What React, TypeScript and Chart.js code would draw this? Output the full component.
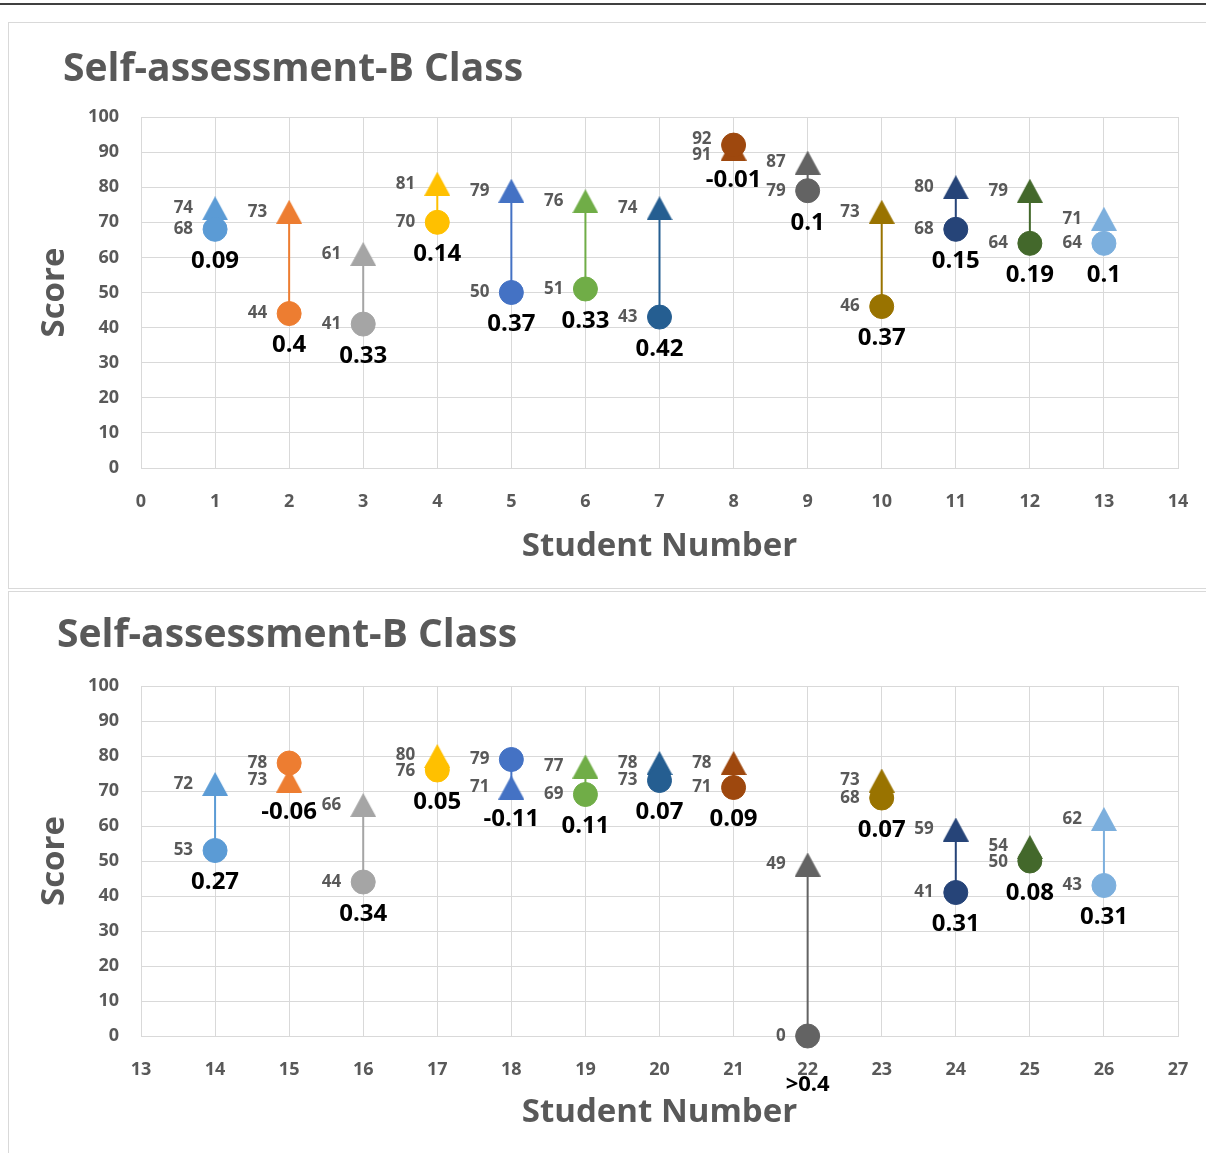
import React, { useEffect, useRef } from 'react';
import { Chart, registerables } from 'chart.js';

Chart.register(...registerables);

// ---- Data ----
const CHART_TITLE = 'Self-assessment-B Class';
const X_TITLE = 'Student Number';
const Y_TITLE = 'Score';

const STUDENTS_A = [1, 2, 3, 4, 5, 6, 7, 8, 9, 10, 11, 12, 13];
const PRE_A = [68, 44, 41, 70, 50, 51, 43, 92, 79, 46, 68, 64, 64];
const POST_A = [74, 73, 61, 81, 79, 76, 74, 91, 87, 73, 80, 79, 71];
const GAIN_A = ['0.09', '0.4', '0.33', '0.14', '0.37', '0.33', '0.42', '-0.01', '0.1', '0.37', '0.15', '0.19', '0.1'];
const X_RANGE_A = [0, 14];

const STUDENTS_B = [14, 15, 16, 17, 18, 19, 20, 21, 22, 23, 24, 25, 26];
const PRE_B = [53, 78, 44, 76, 79, 69, 73, 71, 0, 68, 41, 50, 43];
const POST_B = [72, 73, 66, 80, 71, 77, 78, 78, 49, 73, 59, 54, 62];
const GAIN_B = ['0.27', '-0.06', '0.34', '0.05', '-0.11', '0.11', '0.07', '0.09', '>0.4', '0.07', '0.31', '0.08', '0.31'];
const X_RANGE_B = [13, 27];

const Y_RANGE = [0, 100];

const COLORS = [
  '#5B9BD5', '#ED7D31', '#A5A5A5', '#FFC000', '#4472C4', '#70AD47', '#255E91',
  '#9E480E', '#636363', '#997300', '#264478', '#43682B', '#7CAFDD',
];

// ---- Styling ----
const FONT = '"Open Sans"';
const GRAY_TEXT = '#595959';
const GRID = '#D9D9D9';

function makeTriangle(color: string): HTMLCanvasElement {
  const c = document.createElement('canvas');
  c.width = 26;
  c.height = 24;
  const g = c.getContext('2d')!;
  g.fillStyle = color;
  g.beginPath();
  g.moveTo(13, 0);
  g.lineTo(26, 24);
  g.lineTo(0, 24);
  g.closePath();
  g.fill();
  return c;
}

const pointLabelPlugin = {
  id: 'pointLabels',
  afterDatasetsDraw(chart: any, _args: any, opts: any) {
    const { ctx, chartArea } = chart;
    const xs = chart.scales.x;
    const ys = chart.scales.y;
    const { students, pre, post, gain } = opts;
    if (!students) return;
    ctx.save();
    students.forEach((s: number, i: number) => {
      const px = xs.getPixelForValue(s);
      const yPre = ys.getPixelForValue(pre[i]);
      const yPost = ys.getPixelForValue(post[i]);
      let lPre = yPre;
      let lPost = yPost;
      const minGap = 16;
      if (Math.abs(yPre - yPost) < minGap) {
        const mid = (yPre + yPost) / 2;
        const preAbove = pre[i] > post[i];
        lPre = mid + (preAbove ? -minGap / 2 : minGap / 2);
        lPost = mid + (preAbove ? minGap / 2 : -minGap / 2);
      }
      ctx.font = `bold 17px ${FONT}`;
      ctx.fillStyle = GRAY_TEXT;
      ctx.textAlign = 'right';
      ctx.textBaseline = 'middle';
      ctx.fillText(String(pre[i]), px - 22, lPre);
      ctx.fillText(String(post[i]), px - 22, lPost);

      const low = Math.max(yPre, yPost);
      let gy = low + 32;
      let size = 24;
      if (gy > chartArea.bottom) {
        gy = chartArea.bottom + 49;
        size = 22;
      }
      ctx.font = `bold ${size}px ${FONT}`;
      ctx.fillStyle = '#000000';
      ctx.textAlign = 'center';
      ctx.fillText(gain[i], px, gy);
    });
    ctx.restore();
  },
};

type PanelProps = {
  students: number[];
  pre: number[];
  post: number[];
  gain: string[];
  xRange: number[];
  width: number;
  height: number;
  titleLeft: number;
  titleCenterY: number;
  plotTop: number;
  plotBottom: number;
  xTitleCenterY: number;
};

function ChartPanel(p: PanelProps) {
  const ref = useRef<HTMLCanvasElement | null>(null);
  useEffect(() => {
    let chart: Chart | null = null;
    let cancelled = false;
    const build = () => {
      if (cancelled || !ref.current) return;
      const titleSize = 39;
      const titleLH = titleSize * 1.2;
      const titlePadTop = p.titleCenterY - titleLH / 2;
      const titlePadBottom = p.plotTop - titlePadTop - titleLH;
      const axisTitleSize = 33;
      const axisLH = axisTitleSize * 1.2;
      const plotLeft = 133;
      const plotRight = 1170;
      const yAxisWidth = plotLeft - p.titleLeft;
      const yTitlePad = 47 - p.titleLeft - axisLH / 2;
      const xAxisHeight = p.height - p.plotBottom;
      const xTitlePad = p.height - p.xTitleCenterY - axisLH / 2;

      const datasets = p.students.map((s, i) => ({
        label: `Student ${s}`,
        data: [
          { x: s, y: p.post[i] },
          { x: s, y: p.pre[i] },
        ],
        showLine: true,
        borderColor: COLORS[i],
        backgroundColor: COLORS[i],
        borderWidth: 2,
        pointStyle: [makeTriangle(COLORS[i]), 'circle'],
        pointRadius: [13, 12],
        pointHoverRadius: [13, 12],
        pointBorderWidth: [0, 1],
        pointBorderColor: COLORS[i],
        pointBackgroundColor: COLORS[i],
        clip: false,
      }));

      chart = new Chart(ref.current, {
        type: 'scatter',
        data: { datasets },
        plugins: [pointLabelPlugin],
        options: {
          animation: false,
          responsive: false,
          events: [],
          layout: { padding: { left: p.titleLeft, right: p.width - plotRight, top: 0, bottom: 0 } },
          plugins: {
            legend: { display: false },
            tooltip: { enabled: false },
            title: {
              display: true,
              text: CHART_TITLE,
              align: 'start',
              color: GRAY_TEXT,
              font: { family: FONT, size: titleSize, weight: 'bold' },
              padding: { top: titlePadTop, bottom: titlePadBottom },
            },
            pointLabels: { students: p.students, pre: p.pre, post: p.post, gain: p.gain },
          } as any,
          scales: {
            x: {
              type: 'linear',
              min: p.xRange[0],
              max: p.xRange[1],
              afterFit: (scale: any) => {
                scale.height = xAxisHeight;
                scale.paddingLeft = 0;
                scale.paddingRight = 0;
              },
              ticks: {
                stepSize: 1,
                padding: 23,
                color: GRAY_TEXT,
                font: { family: FONT, size: 18, weight: 'bold' },
                maxRotation: 0,
              },
              grid: { color: GRID, lineWidth: 1, drawTicks: false },
              border: { color: GRID, width: 1 },
              title: {
                display: true,
                text: X_TITLE,
                color: GRAY_TEXT,
                font: { family: FONT, size: axisTitleSize, weight: 'bold' },
                padding: { top: 0, bottom: xTitlePad },
              },
            },
            y: {
              type: 'linear',
              min: Y_RANGE[0],
              max: Y_RANGE[1],
              afterFit: (scale: any) => {
                scale.width = yAxisWidth;
              },
              ticks: {
                stepSize: 10,
                padding: 22,
                color: GRAY_TEXT,
                font: { family: FONT, size: 18, weight: 'bold' },
              },
              grid: { color: GRID, lineWidth: 1, drawTicks: false },
              border: { color: GRID, width: 1 },
              title: {
                display: true,
                text: Y_TITLE,
                color: GRAY_TEXT,
                font: { family: FONT, size: axisTitleSize, weight: 'bold' },
                padding: { top: yTitlePad, bottom: 0 },
              },
            },
          },
        } as any,
      });
    };
    const fonts: any = (document as any).fonts;
    if (fonts && fonts.load) {
      fonts.load(`bold 20px ${FONT}`).then(build, build);
    } else {
      build();
    }
    return () => {
      cancelled = true;
      if (chart) chart.destroy();
    };
  }, []);
  return <canvas ref={ref} width={p.width} height={p.height} style={{ display: 'block' }} />;
}

export default function App() {
  return (
    <div
      style={{
        position: 'absolute',
        left: 0,
        top: 0,
        width: 1206,
        height: 1153,
        background: '#ffffff',
        overflow: 'hidden',
      }}
    >
      <div style={{ position: 'absolute', left: 0, top: 3, width: 1206, height: 2, background: '#404040' }} />
      <div
        style={{
          position: 'absolute', left: 8, top: 22, width: 1210, height: 567,
          border: `1px solid ${GRID}`, boxSizing: 'border-box',
        }}
      />
      <div
        style={{
          position: 'absolute', left: 8, top: 591, width: 1210, height: 580,
          border: `1px solid ${GRID}`, boxSizing: 'border-box',
        }}
      />
      <div style={{ position: 'absolute', left: 8, top: 22 }}>
        <ChartPanel
          students={STUDENTS_A}
          pre={PRE_A}
          post={POST_A}
          gain={GAIN_A}
          xRange={X_RANGE_A}
          width={1198}
          height={566}
          titleLeft={55}
          titleCenterY={48}
          plotTop={95}
          plotBottom={446}
          xTitleCenterY={525}
        />
      </div>
      <div style={{ position: 'absolute', left: 8, top: 592 }}>
        <ChartPanel
          students={STUDENTS_B}
          pre={PRE_B}
          post={POST_B}
          gain={GAIN_B}
          xRange={X_RANGE_B}
          width={1198}
          height={561}
          titleLeft={49}
          titleCenterY={44}
          plotTop={94}
          plotBottom={444}
          xTitleCenterY={521}
        />
      </div>
    </div>
  );
}
